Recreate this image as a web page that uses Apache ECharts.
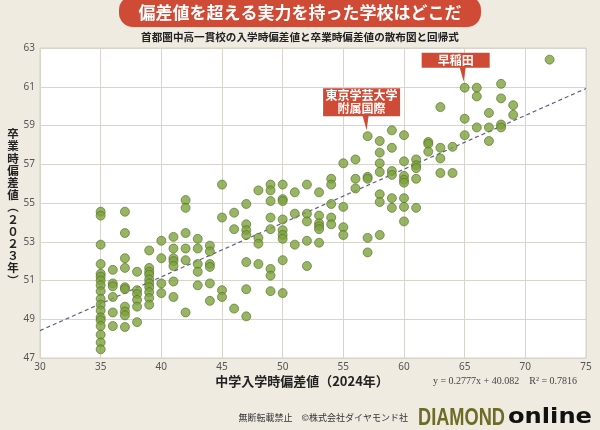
<!DOCTYPE html>
<html><head><meta charset="utf-8">
<script src="https://cdn.jsdelivr.net/npm/echarts@6/dist/echarts.min.js"></script>
<style>html,body{margin:0;padding:0;background:#efebe1;}#c{width:600px;height:430px;}</style>
</head><body><div id="c"></div>
<script>
// Entrance deviation values (x) and, for each, the graduation deviation values (y) of schools
const entrance = [35,36,37,38,39,40,41,42,43,44,45,46,47,48,49,50,51,52,53,54,55,56,57,58,59,60,61,62,63,64,65,66,67,68,69,72];
const graduation = [
  [54.55,54.35,52.85,51.85,51.35,51.2,51.0,50.75,50.45,50.05,49.75,49.45,49.1,48.95,48.65,48.2,47.8,47.45],
  [51.55,50.85,50.7,50.15,49.35,48.65],
  [54.55,53.45,52.15,51.65,50.65,50.55,49.65,49.4,49.2,48.6],
  [51.45,50.5,50.3,50.0,49.65,48.85],
  [52.55,51.65,51.45,51.3,51.05,50.85,50.65,50.4,50.1,49.75],
  [53.05,52.15,50.85,50.35],
  [53.25,52.65,52.15,52.0,51.75,50.95,50.15],
  [55.15,54.75,53.45,52.65,52.05,49.35],
  [53.15,52.65,51.85,51.45,50.75],
  [52.8,52.5,51.85,51.7,50.85,49.95],
  [55.95,54.25,50.5,50.15],
  [54.5,53.65,49.55],
  [54.95,53.9,53.6,53.35,51.95,50.55,49.15],
  [55.65,53.2,52.9,51.85],
  [55.95,55.65,55.1,54.25,53.65,51.6,51.25,50.45],
  [55.95,55.2,55.1,54.15,53.6,53.35,53.15,52.05,50.35],
  [55.55,54.45,52.85],
  [55.95,54.45,54.05,53.05,51.75],
  [55.55,54.35,53.95,53.8,53.65,52.95],
  [56.25,55.95,54.95,54.25,53.9],
  [57.05,54.8,53.75,53.35],
  [57.25,56.25,55.75],
  [58.45,56.35,56.25,53.2,52.45],
  [58.2,57.6,57.05,56.6,55.45,55.05,53.35],
  [58.75,57.85,56.65,56.45,55.25,54.75],
  [58.5,57.15,56.4,56.2,56.05,55.25,54.8,54.05],
  [57.25,56.95,56.8,56.25,54.75],
  [58.15,58.05,57.65],
  [59.95,57.85,57.3,56.55],
  [57.9,56.55],
  [60.95,59.35,58.5],
  [60.95,60.5,58.9],
  [59.65,58.9,58.2],
  [61.15,60.4,59.05,58.9],
  [60.05,59.55],
  [62.4]
];
// Regression y = slope*x + intercept
const slope = 0.2777, intercept = 40.082, r2 = 0.7816;
const xTicks = {min:30, max:75, step:5};
const yTicks = {min:47, max:63, step:2};
// Callout labels for highlighted schools
const calloutNames = ['早稲田', '東京学芸大学\n附属国際'];
const calloutX = [65, 57];
const calloutY = [60.95, 58.45];

const pts = [];
entrance.forEach((x,i)=>graduation[i].forEach(y=>pts.push([x,y])));
const trend = [[xTicks.min, slope*xTicks.min+intercept],[xTicks.max, slope*xTicks.max+intercept]];

const chart = echarts.init(document.getElementById('c'), null, {renderer:'canvas'});
const gridCol = '#d9d5cc';
const lab = {color:'#555', fontSize:10, fontFamily:'"Noto Sans", sans-serif'};
chart.setOption({
  animation:false,
  backgroundColor:'#efebe1',
  grid:{left:40, right:14, top:48, bottom:72, show:true, backgroundColor:'#ffffff', borderColor:'#d4d0c6', borderWidth:1},
  xAxis:{type:'value', min:xTicks.min, max:xTicks.max, interval:xTicks.step,
    axisLine:{show:false}, axisTick:{show:false},
    axisLabel:Object.assign({margin:4}, lab),
    splitLine:{lineStyle:{color:gridCol, width:1}}},
  yAxis:{type:'value', min:yTicks.min, max:yTicks.max, interval:yTicks.step,
    axisLine:{show:false}, axisTick:{show:false},
    axisLabel:Object.assign({margin:5}, lab),
    splitLine:{lineStyle:{color:gridCol, width:1}}},
  series:[
    {type:'line', data:trend, symbol:'none', z:3,
      lineStyle:{color:'#5f5f88', width:1.2, type:[4,3]}},
    {type:'scatter', data:pts, symbolSize:9, z:4,
      itemStyle:{color:'#7ea33d', borderColor:'#506d27', borderWidth:0.8}}
  ]
});

function measure(text, font){
  const c = document.createElement('canvas').getContext('2d');
  c.font = font; return c.measureText(text).width;
}

const g = [];
// Title banner
g.push({type:'rect', shape:{x:119, y:-4, width:362, height:31, r:14}, style:{fill:'#d04b35'}, z:10});
g.push({type:'text', x:300, y:13, z:11, style:{text:'偏差値を超える実力を持った学校はどこだ', fill:'#fff',
  font:'bold 17px "Noto Sans CJK JP"', textAlign:'center', textVerticalAlign:'middle'}});
g.push({type:'text', x:300, y:37, z:11, style:{text:'首都圏中高一貫校の入学時偏差値と卒業時偏差値の散布図と回帰式', fill:'#222',
  font:'bold 10.6px "Noto Sans CJK JP"', textAlign:'center', textVerticalAlign:'middle'}});
// Y axis name (vertical)
const yName = ['卒','業','時','偏','差','値','︵','２','０','２','３','年','︶'];
g.push({type:'text', x:13, y:207, z:11, style:{text:yName.join('\n'), fill:'#222',
  font:'bold 11.5px "Noto Sans CJK JP"', lineHeight:12.2, textAlign:'center', textVerticalAlign:'middle'}});
// X axis name
g.push({type:'text', x:302, y:381, z:11, style:{text:'中学入学時偏差値（2024年）', fill:'#222',
  font:'bold 13px "Noto Sans CJK JP"', textAlign:'center', textVerticalAlign:'middle'}});
// Equation
g.push({type:'text', x:505, y:381, z:11, style:{text:'y = '+slope+'x + '+intercept.toFixed(3)+'    R² = '+r2, fill:'#444',
  font:'10px "Liberation Serif", serif', textAlign:'center', textVerticalAlign:'middle'}});
// Footer
g.push({type:'text', x:408, y:418, z:11, style:{text:'無断転載禁止　©株式会社ダイヤモンド社', fill:'#333',
  font:'9px "Noto Sans CJK JP"', textAlign:'right', textVerticalAlign:'middle'}});
const dFont = 'bold 24px "Liberation Sans", sans-serif';
const dW = measure('DIAMOND', dFont);
g.push({type:'text', x:418, y:418, originX:0, originY:0, scaleX:87/dW, z:11, style:{text:'DIAMOND', fill:'#6e6b26',
  font:dFont, textAlign:'left', textVerticalAlign:'middle'}});
const oFont = 'bold 21px "DejaVu Sans", sans-serif';
const oW = measure('online', oFont);
g.push({type:'text', x:508, y:418, originX:0, originY:0, scaleX:84/oW, z:11, style:{text:'online', fill:'#111',
  font:oFont, textAlign:'left', textVerticalAlign:'middle'}});

// Callouts
const boxSpec = [{w:68, h:15, dx:-9, gap:6, len:14}, {w:77, h:28, dx:-6, gap:6, len:14}];
calloutNames.forEach((t,i)=>{
  const p = chart.convertToPixel({gridIndex:0}, [calloutX[i], calloutY[i]]);
  const s = boxSpec[i];
  const tipY = p[1]-s.gap, bottom = tipY - s.len, top = bottom - s.h;
  const cx = p[0]+s.dx;
  g.push({type:'rect', shape:{x:cx-s.w/2, y:top, width:s.w, height:s.h}, style:{fill:'#d04b35'}, z:12});
  g.push({type:'polygon', shape:{points:[[p[0]-5,bottom-0.5],[p[0]+1,bottom-0.5],[p[0]-1,tipY]]}, style:{fill:'#d04b35'}, z:12});
  g.push({type:'text', x:cx, y:(top+bottom)/2, z:13, style:{text:t, fill:'#fff',
    font:'bold 12px "Noto Sans CJK JP"', lineHeight:13, textAlign:'center', textVerticalAlign:'middle'}});
});
chart.setOption({graphic:g});
</script></body></html>
